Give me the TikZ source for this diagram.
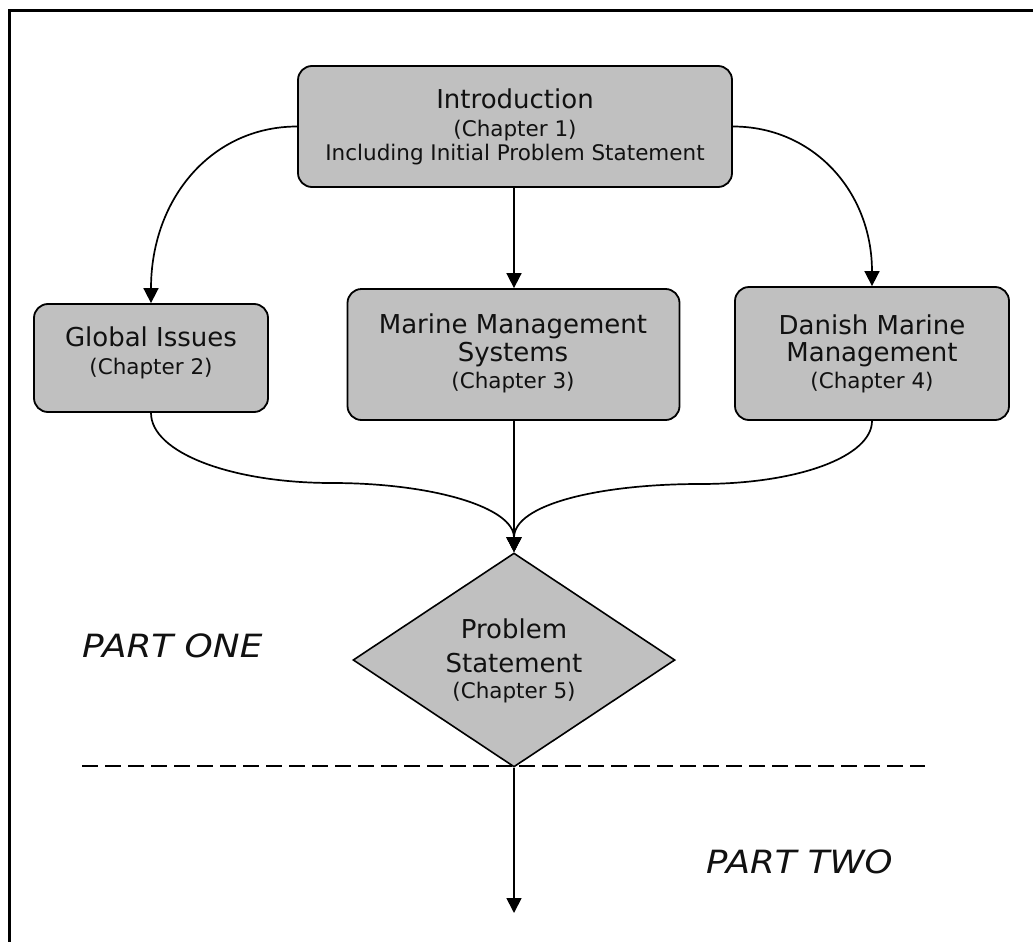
\documentclass[tikz,border=0pt]{standalone}
\usepackage{fontspec}
\setmainfont{DejaVu Sans}
\usetikzlibrary{arrows.meta,shapes.geometric}
\definecolor{boxgray}{HTML}{C0C0C0}
\definecolor{inkc}{HTML}{111111}
\begin{document}
\begin{tikzpicture}[x=1pt,y=-1pt,
  box/.style={draw=black, line width=1.8pt, fill=boxgray, rounded corners=14pt, inner sep=0pt},
  big/.style={font=\fontsize{26}{30}\selectfont, text=inkc, inner sep=0pt, anchor=base},
  small/.style={font=\fontsize{21.5}{25}\selectfont, text=inkc, inner sep=0pt, anchor=base},
  part/.style={font=\fontsize{32}{36}\selectfont\itshape, text=inkc, inner sep=0pt, anchor=base west},
  conn/.style={draw=black, line width=1.7pt, -{Triangle[length=15pt,width=15pt]}},
  diam/.style={draw=black, line width=1.6pt, fill=boxgray, shape=diamond, inner sep=0pt}
]
\useasboundingbox (0,0) rectangle (1033,942);
\clip (0,0) rectangle (1033,942);
\fill[white] (0,0) rectangle (1033,942);
% outer frame
\draw[line width=3pt] (9.7,960) -- (9.7,11) -- (1050,11);

% boxes
\node[box, minimum width=434pt, minimum height=121pt] (intro) at (515,126.5) {};
\node[box, minimum width=234pt, minimum height=108pt] (global) at (151,358) {};
\node[box, minimum width=332pt, minimum height=131pt] (marine) at (513.5,354.5) {};
\node[box, minimum width=274pt, minimum height=133pt] (danish) at (872,353.5) {};
\node[diam, minimum width=322pt, minimum height=214pt] (dia) at (514,660) {};

% texts
\node[big]   (introA) at (515,108) {Introduction};
\node[small] (introB) at (515,136) {(Chapter 1)};
\node[small] (introC) at (515,160) {Including Initial Problem Statement};

\node[big]   (globalA) at (151,346) {Global Issues};
\node[small] (globalB) at (151,374) {(Chapter 2)};

\node[big]   (marineA) at (513,333) {Marine Management};
\node[big]   (marineB) at (513,361) {Systems};
\node[small] (marineC) at (513,388) {(Chapter 3)};

\node[big]   (danishA) at (872,334) {Danish Marine};
\node[big]   (danishB) at (872,361) {Management};
\node[small] (danishC) at (872,388) {(Chapter 4)};

\node[big]   (diaA) at (514,638) {Problem};
\node[big]   (diaB) at (514,672) {Statement};
\node[small] (diaC) at (514,698) {(Chapter 5)};

\node[part] (p1) at (82,657) {\scalebox{1.12}[1]{PART ONE}};
\node[part] (p2) at (706,873) {\scalebox{1.11}[1]{PART TWO}};

% dashed separator
\coordinate (dl) at (82,766);
\coordinate (dr) at (925,766);
\draw[line width=2pt, dash pattern=on 16pt off 7pt] (dl) -- (dr);

% connector helper points
\coordinate (lmid) at (332,483);
\coordinate (rmid) at (700,484);

% connectors
\draw[conn] (intro.south -| dia.north) -- (marine.north -| dia.north);
\draw[conn] (intro.west) .. controls +(-85,0) and +(0,-105) .. (global.north);
\draw[conn] (intro.east) .. controls +(80,0) and +(0,-95) .. (danish.north);
\draw[conn] (global.south) .. controls +(0,40) and +(-100,0) .. (lmid)
                            .. controls +(100,0) and +(0,-45) .. (dia.north);
\draw[conn] (danish.south) .. controls +(0,35) and +(100,0) .. (rmid)
                            .. controls +(-100,0) and +(0,-48) .. (dia.north);
\draw[conn] (marine.south -| dia.north) -- (dia.north);
\coordinate (out) at (514,913);
\draw[conn] (dia.south) -- (out);
\end{tikzpicture}
\end{document}
